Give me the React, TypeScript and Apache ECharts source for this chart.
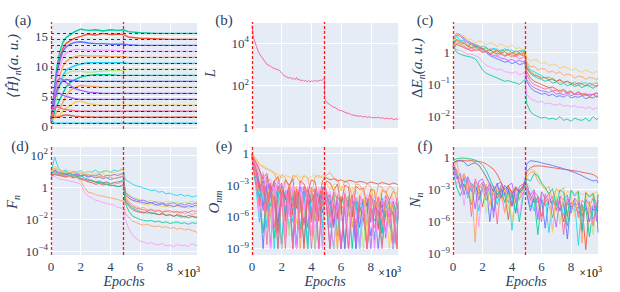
import React, { useEffect, useRef } from 'react';
import * as echarts from 'echarts';

const FONT = "'Liberation Serif', 'DejaVu Serif', serif";
const INK = '#2a3f5f';
const BG = '#E5ECF6';
const COL = {
  blue: '#636EFA', red: '#EF553B', green: '#00CC96', purple: '#AB63FA', orange: '#FFA15A',
  cyan: '#19D3F3', pink: '#FF6692', lgreen: '#B6E880', lpink: '#FF97FF', yellow: '#FECB52',
};

// ---------- shared epoch grids ----------
const epochsA = [0, 100, 200, 300, 400, 600, 800, 1000, 1300, 1600, 2000, 2500, 3000, 3500, 4000, 4500, 4880, 5200, 6000, 7000, 8000, 9000, 9830];
const epochsN = [0, 250, 500, 750, 1000, 1250, 1500, 1750, 2000, 2250, 2500, 2750, 3000, 3250, 3500, 3750, 4000, 4250, 4500, 4750, 4880,
  5000, 5250, 5500, 5750, 6000, 6250, 6500, 6750, 7000, 7250, 7500, 7750, 8000, 8250, 8500, 8750, 9000, 9250, 9500, 9750, 9830];
const switchEpochs = [0, 4880];
const xTicks = [0, 2000, 4000, 6000, 8000];

// ---------- (a) <H>_n ----------
const levels = [0.5, 1.5, 2.5, 3.5, 4.5, 5.5, 6.5, 7.5, 8.5, 9.5, 10.5, 11.5, 12.5, 13.5, 14.5, 15.5];
const h15 = [1.5, 3, 5.5, 8, 10, 12.5, 14, 14.8, 15.3, 15.8, 16.2, 16.0, 16.1, 15.9, 16.1, 16.0, 16.1, 15.8, 15.6, 15.5, 15.5, 15.5, 15.5];
const h14 = [1.2, 2.5, 4.5, 7, 9, 11.5, 13, 13.8, 14.3, 14.7, 15.0, 15.4, 15.2, 15.5, 15.3, 15.4, 15.3, 14.9, 14.7, 14.6, 14.5, 14.5, 14.5];
const h13 = [1, 3, 5, 7.5, 9, 11, 12.5, 13.2, 13.7, 14.0, 14.1, 13.9, 13.8, 13.8, 13.7, 13.7, 13.7, 13.6, 13.5, 13.5, 13.5, 13.5, 13.5];
const h12 = [1, 2.5, 4, 6, 8, 10, 11.5, 12.2, 12.6, 12.8, 12.8, 12.7, 12.7, 12.7, 12.7, 12.6, 12.6, 12.5, 12.5, 12.5, 12.5, 12.5, 12.5];
const h11 = [0.8, 2, 3.5, 5, 6.5, 8.5, 10, 10.8, 11.3, 11.6, 11.8, 11.7, 11.7, 11.7, 11.6, 11.6, 11.6, 11.5, 11.5, 11.5, 11.5, 11.5, 11.5];
const h10 = [0.8, 2, 3, 4, 5, 7, 8.5, 9.3, 9.8, 10.1, 10.4, 10.6, 10.6, 10.6, 10.6, 10.6, 10.6, 10.5, 10.5, 10.5, 10.5, 10.5, 10.5];
const h9 = [1, 2, 3, 4, 5, 6.5, 8, 8.8, 9.1, 9.2, 9.2, 9.0, 9.1, 9.2, 9.3, 9.3, 9.4, 9.5, 9.5, 9.5, 9.5, 9.5, 9.5];
const h8 = [0.5, 1, 2, 3, 3.5, 4.5, 5.5, 6.5, 7.3, 7.8, 8.2, 8.5, 8.6, 8.6, 8.6, 8.5, 8.5, 8.5, 8.5, 8.5, 8.5, 8.5, 8.5];
const h7 = [0.8, 2, 3.5, 5, 6, 7, 7.6, 7.8, 7.7, 7.6, 7.5, 7.5, 7.5, 7.5, 7.5, 7.5, 7.5, 7.5, 7.5, 7.5, 7.5, 7.5, 7.5];
const h6 = [0.5, 1, 1.5, 2, 2.5, 3, 4, 5, 6, 6.5, 6.8, 6.7, 6.6, 6.5, 6.5, 6.5, 6.5, 6.5, 6.5, 6.5, 6.5, 6.5, 6.5];
const h5 = [1, 3, 5, 6.5, 7.5, 8, 7.8, 7.3, 6.8, 6.3, 6.0, 5.7, 5.6, 5.5, 5.5, 5.5, 5.5, 5.5, 5.5, 5.5, 5.5, 5.5, 5.5];
const h4 = [1, 2.5, 4, 5, 5.5, 5.5, 5.2, 5.0, 4.8, 4.6, 4.5, 4.5, 4.5, 4.5, 4.5, 4.5, 4.5, 4.5, 4.5, 4.5, 4.5, 4.5, 4.5];
const h3 = [0.5, 1, 1.3, 1.5, 1.7, 2, 2.5, 3, 3.5, 4, 4.2, 3.8, 3.6, 3.5, 3.5, 3.5, 3.5, 3.5, 3.5, 3.5, 3.5, 3.5, 3.5];
const h2 = [1, 2, 3, 3.2, 3.3, 3.1, 2.9, 2.8, 2.7, 2.6, 2.5, 2.5, 2.5, 2.5, 2.5, 2.5, 2.5, 2.5, 2.5, 2.5, 2.5, 2.5, 2.5];
const h1 = [1.5, 1.5, 1.5, 1.5, 1.5, 1.6, 1.8, 1.9, 1.8, 1.7, 1.6, 1.55, 1.5, 1.5, 1.5, 1.5, 1.5, 1.5, 1.5, 1.5, 1.5, 1.5, 1.5];
const h0 = [1.5, 0.8, 0.6, 0.5, 0.5, 0.5, 0.5, 0.5, 0.5, 0.5, 0.5, 0.5, 0.5, 0.5, 0.5, 0.5, 0.5, 0.5, 0.5, 0.5, 0.5, 0.5, 0.5];

// ---------- (b) loss, [epoch, log10 L] ----------
const lossLog10 = [
  [0, 4.85], [50, 4.5], [100, 4.25], [200, 4.05], [300, 3.85], [400, 3.65], [550, 3.45], [700, 3.3], [850, 3.15], [1000, 3.0],
  [1150, 2.95], [1300, 2.88], [1450, 2.82], [1600, 2.78], [1750, 2.75], [1850, 2.72], [2000, 2.58], [2150, 2.48], [2300, 2.42],
  [2450, 2.36], [2600, 2.38], [2700, 2.3], [2800, 2.34], [2900, 2.28], [3000, 2.38], [3100, 2.26], [3200, 2.3], [3300, 2.22],
  [3400, 2.27], [3500, 2.2], [3600, 2.24], [3700, 2.18], [3800, 2.23], [3900, 2.17], [4000, 2.22], [4100, 2.19], [4200, 2.25],
  [4300, 2.2], [4400, 2.23], [4500, 2.21], [4600, 2.26], [4700, 2.24], [4800, 2.3], [4870, 2.33], [4890, 1.4], [4950, 1.3],
  [5050, 1.2], [5200, 1.12], [5350, 1.05], [5500, 0.98], [5650, 0.94], [5800, 0.86], [5950, 0.82], [6100, 0.8], [6250, 0.74],
  [6400, 0.7], [6550, 0.68], [6700, 0.62], [6850, 0.6], [7000, 0.58], [7150, 0.55], [7300, 0.57], [7450, 0.52], [7600, 0.54],
  [7750, 0.5], [7900, 0.53], [8050, 0.48], [8200, 0.5], [8350, 0.47], [8500, 0.51], [8650, 0.45], [8800, 0.48], [8950, 0.43],
  [9100, 0.47], [9250, 0.42], [9400, 0.46], [9550, 0.38], [9700, 0.44], [9830, 0.4],
];

// ---------- (c) log10 dE_n ----------
const cYellow = [0.35, 0.6, 0.5, 0.52, 0.38, 0.42, 0.3, 0.36, 0.32, 0.22, 0.3, 0.26, 0.18, 0.27, 0.2, 0.16, 0.24, 0.12, 0.15, 0.08, 0.12, -0.15, -0.28, -0.22, -0.26, -0.35, -0.3, -0.42, -0.36, -0.4, -0.5, -0.44, -0.47, -0.56, -0.5, -0.58, -0.62, -0.55, -0.6, -0.66, -0.58, -0.62];
const cOrange = [0.2, 0.4, 0.34, 0.3, 0.22, 0.26, 0.12, 0.2, 0.16, 0.04, 0.12, 0.08, 0.1, 0.0, 0.06, 0.1, -0.04, 0.02, 0.05, -0.02, 0.05, -0.3, -0.45, -0.42, -0.55, -0.5, -0.52, -0.62, -0.58, -0.66, -0.6, -0.72, -0.68, -0.7, -0.8, -0.74, -0.76, -0.84, -0.78, -0.8, -0.86, -0.78];
const cRed = [0.1, 0.25, 0.2, 0.15, 0.1, 0.05, 0.1, 0.08, 0.0, 0.05, -0.05, 0.02, -0.05, 0.0, -0.1, -0.05, -0.08, -0.12, -0.05, -0.1, -0.05, -0.6, -0.8, -0.9, -0.95, -1.0, -1.05, -1.1, -1.08, -1.15, -1.2, -1.15, -1.25, -1.2, -1.3, -1.25, -1.35, -1.3, -1.38, -1.3, -1.4, -1.35];
const cCyan = [0.3, 0.5, 0.38, 0.36, 0.2, 0.28, 0.22, 0.14, 0.2, 0.16, 0.06, 0.12, 0.1, 0.02, 0.12, 0.05, 0.08, -0.04, 0.06, 0.02, 0.05, -0.35, -0.55, -0.6, -0.66, -0.72, -0.8, -0.76, -0.85, -0.9, -0.84, -0.94, -0.9, -0.98, -0.92, -1.02, -0.96, -0.94, -1.04, -0.98, -0.95, -1.0];
const cLgreen = [0.2, 0.35, 0.26, 0.22, 0.14, 0.2, 0.08, 0.12, 0.04, 0.1, 0.02, -0.04, 0.06, -0.02, -0.08, 0.02, -0.1, -0.04, -0.12, -0.02, 0.0, -0.4, -0.58, -0.64, -0.7, -0.76, -0.8, -0.84, -0.8, -0.88, -0.94, -0.9, -0.98, -0.92, -1.0, -0.96, -0.9, -1.02, -0.96, -0.98, -0.92, -0.95];
const cGreenLow = [0.25, 0.0, -0.05, -0.1, -0.12, -0.15, -0.2, -0.35, -0.55, -0.65, -0.7, -0.75, -0.8, -0.85, -0.9, -0.88, -0.92, -0.95, -1.0, -0.9, -0.85, -1.6, -1.85, -1.95, -2.0, -2.05, -2.02, -2.08, -2.05, -2.1, -2.0, -2.12, -2.08, -2.15, -2.05, -2.1, -2.12, -2.05, -2.15, -2.0, -2.1, -2.05];
const cPink = [0.15, 0.3, 0.25, 0.2, 0.1, 0.15, 0.05, 0.1, 0.0, 0.05, -0.05, 0.0, -0.1, -0.05, -0.12, -0.08, -0.15, -0.1, -0.2, -0.15, -0.1, -0.7, -0.9, -1.0, -1.05, -1.1, -1.15, -1.1, -1.2, -1.18, -1.25, -1.2, -1.28, -1.25, -1.3, -1.22, -1.3, -1.28, -1.35, -1.3, -1.25, -1.3];
const cLpink = [0.0, 0.1, 0.05, 0.0, -0.05, -0.05, -0.1, -0.15, -0.3, -0.4, -0.45, -0.5, -0.55, -0.52, -0.6, -0.62, -0.65, -0.6, -0.7, -0.65, -0.6, -1.3, -1.45, -1.5, -1.55, -1.52, -1.6, -1.58, -1.62, -1.65, -1.6, -1.68, -1.65, -1.7, -1.66, -1.72, -1.7, -1.75, -1.7, -1.78, -1.72, -1.75];
const cBlue = [0.4, 0.55, 0.5, 0.4, 0.3, 0.25, 0.2, 0.15, 0.05, 0.0, -0.1, -0.15, -0.2, -0.25, -0.3, -0.28, -0.35, -0.3, -0.38, -0.35, -0.3, -0.9, -1.1, -1.2, -1.25, -1.3, -1.28, -1.35, -1.3, -1.38, -1.35, -1.4, -1.32, -1.42, -1.38, -1.4, -1.35, -1.45, -1.4, -1.42, -1.35, -1.4];
const cPurple = [0.45, 0.6, 0.55, 0.45, 0.35, 0.3, 0.25, 0.2, 0.1, 0.05, -0.05, -0.1, -0.12, -0.18, -0.2, -0.25, -0.22, -0.28, -0.25, -0.3, -0.25, -0.85, -1.0, -1.1, -1.15, -1.2, -1.22, -1.25, -1.2, -1.3, -1.28, -1.32, -1.25, -1.35, -1.3, -1.32, -1.28, -1.35, -1.3, -1.32, -1.28, -1.3];
const cGreen = [0.3, 0.4, 0.35, 0.3, 0.2, 0.25, 0.15, 0.2, 0.1, 0.15, 0.05, 0.12, 0.0, 0.08, 0.05, 0.1, -0.02, 0.05, 0.0, 0.08, 0.05, -0.5, -0.66, -0.74, -0.8, -0.84, -0.9, -0.86, -0.96, -0.92, -1.0, -0.97, -1.04, -0.99, -1.06, -1.02, -1.1, -1.02, -1.06, -1.12, -1.04, -1.05];
const cRed2 = [0.2, 0.4, 0.3, 0.28, 0.2, 0.14, 0.2, 0.1, 0.12, 0.04, 0.1, 0.0, 0.06, -0.04, 0.02, -0.06, 0.0, -0.08, -0.02, -0.06, 0.0, -0.45, -0.62, -0.7, -0.74, -0.8, -0.78, -0.86, -0.82, -0.9, -0.86, -0.94, -0.9, -0.96, -1.0, -0.95, -0.99, -1.05, -0.96, -1.02, -1.06, -1.0];

// ---------- (d) log10 F_n ----------
const dCyan = [0.9, 1.9, 1.2, 1.0, 1.1, 0.9, 1.0, 0.95, 1.05, 0.9, 1.0, 0.95, 1.1, 0.9, 1.0, 1.05, 0.95, 1.1, 1.0, 1.15, 1.1, 0.5, 0.35, 0.2, 0.1, 0.05, -0.05, -0.1, -0.2, -0.15, -0.3, -0.25, -0.4, -0.35, -0.45, -0.5, -0.42, -0.55, -0.48, -0.6, -0.52, -0.55];
const dOrangeLow = [0.8, 0.9, 0.85, 0.8, 0.75, 0.7, 0.75, 0.6, 0.4, 0.0, -0.3, -0.35, -0.45, -0.5, -0.55, -0.6, -0.65, -0.7, -0.75, -0.85, -0.8, -1.6, -1.9, -2.1, -2.2, -2.3, -2.35, -2.3, -2.4, -2.45, -2.4, -2.5, -2.45, -2.55, -2.5, -2.6, -2.55, -2.65, -2.6, -2.7, -2.75, -2.85];
const dLpink = [0.6, 0.7, 0.55, 0.5, 0.45, 0.4, 0.35, 0.3, 0.2, -0.3, -0.55, -0.65, -0.8, -0.85, -0.95, -1.0, -1.05, -1.1, -1.25, -1.3, -1.15, -2.0, -2.6, -3.0, -3.2, -3.35, -3.4, -3.5, -3.45, -3.55, -3.6, -3.5, -3.65, -3.6, -3.7, -3.55, -3.65, -3.6, -3.7, -3.5, -3.65, -3.55];
const dGreen = [0.9, 1.0, 0.85, 0.8, 0.9, 0.75, 0.8, 0.7, 0.75, 0.6, 0.5, 0.45, 0.35, 0.3, 0.25, 0.2, 0.15, 0.1, 0.05, 0.1, 0.15, -1.0, -1.5, -1.8, -1.9, -2.0, -2.05, -2.1, -2.05, -2.15, -2.1, -2.2, -2.15, -2.25, -2.2, -2.15, -2.25, -2.2, -2.3, -2.2, -2.25, -2.2];
const dOrange = [1.0, 1.2, 1.1, 0.95, 1.0, 0.9, 0.95, 0.85, 0.9, 0.8, 0.85, 0.7, 0.75, 0.65, 0.7, 0.6, 0.65, 0.55, 0.6, 0.7, 0.75, -0.6, -0.9, -1.1, -1.2, -1.3, -1.25, -1.4, -1.35, -1.45, -1.4, -1.5, -1.45, -1.55, -1.5, -1.6, -1.5, -1.65, -1.55, -1.7, -1.6, -1.65];
const dRed = [0.7, 0.8, 0.75, 0.7, 0.65, 0.7, 0.6, 0.65, 0.5, 0.45, 0.35, 0.3, 0.2, 0.25, 0.15, 0.2, 0.1, 0.15, 0.05, 0.1, 0.2, -0.9, -1.2, -1.4, -1.5, -1.55, -1.6, -1.5, -1.65, -1.6, -1.7, -1.65, -1.75, -1.7, -1.8, -1.7, -1.75, -1.85, -1.75, -1.8, -1.9, -1.8];
const dBlue = [0.8, 1.1, 0.92, 0.86, 0.8, 0.86, 0.74, 0.8, 0.7, 0.76, 0.64, 0.7, 0.6, 0.66, 0.56, 0.62, 0.5, 0.56, 0.6, 0.66, 0.7, -0.4, -0.66, -0.8, -0.86, -0.9, -0.96, -1.0, -0.94, -1.06, -1.1, -1.02, -1.16, -1.1, -1.2, -1.12, -1.16, -1.24, -1.14, -1.2, -1.1, -1.15];
const dPurple = [0.85, 1.05, 0.92, 0.9, 0.82, 0.9, 0.78, 0.86, 0.74, 0.82, 0.7, 0.78, 0.72, 0.84, 0.66, 0.76, 0.72, 0.82, 0.74, 0.86, 0.9, -0.3, -0.52, -0.68, -0.76, -0.84, -0.8, -0.92, -0.96, -0.9, -1.0, -0.96, -1.06, -1.0, -0.96, -1.06, -1.02, -1.1, -1.0, -1.05, -0.97, -1.0];
const dPink = [0.75, 0.9, 0.8, 0.85, 0.7, 0.75, 0.7, 0.8, 0.6, 0.5, 0.4, 0.45, 0.3, 0.35, 0.25, 0.3, 0.2, 0.3, 0.25, 0.35, 0.4, -0.7, -1.0, -1.2, -1.3, -1.35, -1.4, -1.45, -1.4, -1.5, -1.45, -1.55, -1.5, -1.45, -1.55, -1.5, -1.6, -1.5, -1.55, -1.45, -1.5, -1.45];
const dLgreen = [0.95, 1.15, 1.0, 0.92, 0.96, 0.86, 0.92, 0.82, 0.86, 0.76, 0.82, 0.72, 0.8, 0.76, 0.86, 0.72, 0.8, 0.76, 0.86, 0.82, 0.9, -0.2, -0.46, -0.6, -0.7, -0.74, -0.8, -0.86, -0.8, -0.9, -0.86, -0.95, -0.9, -0.86, -0.96, -0.9, -1.0, -0.92, -0.96, -0.86, -0.92, -0.95];
const dYellow = [1.05, 1.35, 1.1, 1.05, 0.95, 1.08, 0.92, 1.0, 0.98, 0.9, 1.02, 0.95, 0.86, 0.98, 0.92, 1.04, 0.9, 0.95, 1.0, 1.08, 1.0, -0.5, -0.72, -0.84, -0.92, -1.0, -1.04, -1.1, -1.02, -1.14, -1.1, -1.2, -1.16, -1.24, -1.18, -1.15, -1.26, -1.2, -1.3, -1.22, -1.25, -1.2];
const dGreen2 = [0.7, 0.85, 0.8, 0.75, 0.7, 0.75, 0.65, 0.7, 0.55, 0.5, 0.45, 0.4, 0.35, 0.4, 0.3, 0.35, 0.25, 0.3, 0.35, 0.4, 0.45, -0.8, -1.1, -1.3, -1.4, -1.5, -1.55, -1.6, -1.55, -1.65, -1.7, -1.6, -1.75, -1.7, -1.8, -1.75, -1.85, -1.8, -1.9, -1.8, -1.85, -1.9];

// ---------- (e) log10 O_nm ----------
const e1 = [-0.2, -0.8, -1.6, -2.4, -1.9, -3.5, -2.6, -2.2, -4.1, -2.5, -3.0, -2.4, -5.2, -2.6, -2.9, -3.8, -2.5, -2.7, -4.5, -2.6, -2.4, -2.3, -2.5, -2.4, -2.6, -2.5, -2.7, -2.55, -2.6, -2.75, -2.65, -2.7, -2.85, -2.7, -2.8, -2.9, -2.75, -2.85, -2.95, -2.8, -2.9, -3.0];
const e2 = [0.0, -0.5, -1.0, -1.3, -1.5, -1.6, -1.8, -2.9, -2.0, -2.3, -3.4, -2.1, -2.2, -2.8, -2.1, -2.3, -4.0, -2.2, -2.1, -2.3, -2.2, -2.1, -1.8, -2.3, -2.5, -3.5, -2.6, -2.8, -4.2, -2.9, -3.0, -3.6, -2.9, -3.1, -5.0, -3.0, -3.2, -3.8, -3.1, -3.3, -4.4, -3.2];
const e3 = [-0.1, -0.6, -1.2, -1.1, -1.4, -1.7, -1.9, -2.0, -2.3, -2.1, -2.2, -2.5, -2.0, -2.3, -2.1, -2.4, -2.2, -2.0, -2.3, -2.1, -2.0, -2.8, -3.4, -2.9, -4.5, -3.1, -3.3, -6.0, -3.2, -3.5, -4.0, -3.4, -7.2, -3.6, -3.5, -4.8, -3.4, -3.7, -5.5, -3.5, -3.8, -3.6];
const e4 = [0.0, -1.5, -3.5, -2.0, -5.5, -2.8, -7.0, -3.0, -4.5, -9.0, -3.2, -5.0, -3.4, -8.0, -3.1, -4.2, -6.5, -3.3, -9.0, -3.5, -3.0, -3.5, -6.0, -3.6, -4.4, -9.0, -3.8, -5.2, -3.9, -7.5, -4.0, -4.6, -9.0, -3.9, -5.5, -4.1, -6.8, -4.0, -4.8, -8.5, -4.2, -4.5];
const e5 = [-0.3, -1.0, -2.2, -1.8, -3.0, -2.4, -4.0, -2.6, -3.5, -2.8, -6.0, -3.0, -3.8, -2.9, -5.2, -3.1, -4.0, -7.5, -3.2, -3.6, -3.4, -4.0, -3.6, -5.5, -3.8, -4.2, -3.7, -8.0, -3.9, -4.5, -4.0, -5.8, -3.9, -4.4, -9.0, -4.1, -4.6, -4.0, -6.2, -4.2, -4.8, -4.5];
const e6 = [-0.2, -2.0, -4.5, -2.6, -7.0, -3.0, -5.0, -3.2, -8.5, -3.5, -4.0, -6.5, -3.4, -5.0, -3.6, -9.0, -3.5, -4.5, -3.8, -7.0, -3.6, -4.0, -5.5, -3.8, -7.8, -4.1, -4.5, -4.0, -6.0, -4.2, -8.8, -4.3, -5.0, -4.1, -4.6, -7.0, -4.2, -5.2, -4.4, -9.0, -4.5, -4.8];
const e7 = [-0.1, -1.2, -2.8, -5.0, -2.5, -3.8, -2.9, -6.8, -3.0, -4.2, -3.1, -5.5, -9.0, -3.2, -4.0, -3.3, -6.2, -3.4, -4.8, -3.2, -3.3, -4.5, -3.9, -6.5, -4.0, -4.8, -9.0, -4.2, -5.0, -4.4, -7.0, -4.3, -4.9, -4.5, -8.2, -4.4, -5.1, -4.6, -6.0, -4.5, -9.0, -4.7];
const e8 = [-0.3, -1.8, -3.2, -2.6, -4.8, -3.1, -8.0, -3.3, -3.9, -5.8, -3.4, -4.5, -3.6, -7.2, -3.5, -4.2, -3.7, -5.6, -3.6, -9.0, -3.5, -3.8, -4.8, -4.0, -6.2, -4.1, -5.0, -4.3, -9.0, -4.2, -5.5, -4.4, -6.8, -4.3, -4.9, -4.5, -7.5, -4.4, -5.4, -4.6, -6.0, -4.5];
const e9 = [-0.1, -0.9, -1.5, -3.0, -2.2, -4.2, -2.6, -3.4, -2.8, -5.5, -3.0, -3.6, -8.8, -3.1, -3.5, -4.8, -3.2, -3.8, -6.0, -3.3, -3.1, -3.6, -4.2, -7.0, -4.0, -4.5, -4.1, -5.8, -4.2, -9.0, -4.3, -4.8, -4.2, -6.5, -4.4, -5.0, -4.3, -8.0, -4.5, -4.9, -4.6, -5.2];
const e10 = [-0.4, -2.5, -5.5, -3.0, -4.0, -9.0, -3.3, -4.6, -3.5, -6.8, -3.6, -4.4, -3.7, -5.6, -3.6, -8.2, -3.8, -4.5, -3.7, -5.0, -3.6, -4.2, -6.5, -4.3, -5.0, -4.4, -9.0, -4.5, -5.4, -4.6, -6.2, -4.5, -5.0, -4.7, -8.5, -4.6, -5.2, -4.8, -7.0, -4.7, -5.5, -4.8];
const e11 = [-0.2, -1.4, -2.6, -4.0, -3.0, -6.5, -3.2, -4.4, -3.4, -3.9, -7.8, -3.5, -4.6, -3.6, -6.0, -3.7, -4.2, -9.0, -3.8, -4.5, -3.7, -3.9, -5.0, -4.1, -7.5, -4.2, -4.8, -4.3, -6.2, -4.4, -5.0, -9.0, -4.5, -5.2, -4.6, -6.5, -4.5, -5.4, -4.7, -8.0, -4.6, -5.0];
const e12 = [-0.3, -2.2, -3.8, -2.9, -6.0, -3.2, -4.5, -3.4, -9.0, -3.5, -4.3, -3.6, -6.6, -3.7, -4.8, -3.6, -7.5, -3.8, -4.4, -3.9, -3.7, -4.4, -5.2, -4.6, -9.0, -4.7, -5.5, -4.8, -6.8, -4.9, -5.6, -4.8, -8.0, -5.0, -5.8, -4.9, -6.2, -5.1, -9.0, -5.0, -5.6, -5.2];
const e13 = [-0.2, -1.6, -3.4, -2.7, -5.2, -3.0, -3.8, -7.5, -3.2, -4.4, -3.3, -5.8, -3.4, -4.0, -9.0, -3.5, -4.6, -3.6, -6.4, -3.5, -3.4, -2.6, -2.8, -3.5, -2.9, -4.8, -3.0, -3.2, -6.0, -3.1, -3.4, -3.3, -5.0, -3.4, -3.5, -7.2, -3.5, -3.6, -4.4, -3.6, -3.8, -3.7];
const e14 = [-0.5, -3.0, -6.5, -3.5, -4.8, -3.6, -9.0, -3.8, -5.0, -3.9, -7.2, -4.0, -4.6, -4.1, -8.5, -4.2, -5.2, -4.1, -6.0, -4.3, -4.2, -4.6, -7.0, -4.8, -5.4, -4.9, -8.2, -5.0, -5.6, -5.1, -9.0, -5.2, -6.0, -5.1, -5.8, -5.3, -7.6, -5.2, -6.2, -5.4, -9.0, -5.5];
const e15 = [-0.1, -2.4, -5.0, -3.0, -8.6, -3.4, -4.6, -9.0, -3.6, -5.2, -3.7, -9.0, -3.8, -4.9, -6.8, -3.9, -9.0, -4.0, -5.4, -4.1, -3.9, -4.6, -9.0, -4.8, -6.2, -4.9, -5.4, -9.0, -5.0, -6.6, -5.1, -5.6, -9.0, -5.2, -7.0, -5.3, -9.0, -5.4, -6.0, -5.5, -8.8, -5.4];
const e16 = [-0.2, -1.9, -6.0, -2.8, -4.2, -9.0, -3.2, -5.6, -3.4, -8.0, -3.5, -4.8, -9.0, -3.6, -5.4, -3.7, -7.8, -3.8, -5.0, -9.0, -3.8, -4.2, -5.8, -9.0, -4.6, -6.4, -4.7, -8.4, -4.8, -5.5, -9.0, -4.9, -6.0, -5.0, -9.0, -5.1, -5.8, -7.6, -5.2, -9.0, -5.3, -6.0];
const e17 = [-0.4, -2.8, -4.0, -7.5, -3.4, -5.0, -3.6, -9.0, -3.8, -6.0, -3.9, -8.4, -4.0, -5.2, -4.1, -9.0, -4.2, -6.4, -4.3, -5.0, -4.2, -4.8, -6.0, -9.0, -5.0, -5.8, -5.1, -9.0, -5.2, -7.2, -5.3, -6.0, -9.0, -5.4, -6.4, -5.5, -8.6, -5.6, -6.2, -9.0, -5.7, -6.0];
const e18 = [-0.3, -2.2, -3.6, -9.0, -3.2, -6.2, -3.4, -4.8, -9.0, -3.6, -5.8, -3.7, -9.0, -3.8, -6.6, -3.9, -5.2, -9.0, -4.0, -5.6, -4.1, -4.4, -9.0, -4.6, -5.6, -9.0, -4.8, -6.0, -4.9, -9.0, -5.0, -6.4, -5.1, -7.8, -5.2, -9.0, -5.3, -6.0, -5.4, -9.0, -5.5, -6.2];
const e19 = [-0.2, -1.2, -2.0, -3.6, -2.4, -5.8, -2.8, -3.6, -2.9, -7.6, -3.0, -3.8, -3.1, -9.0, -3.2, -4.4, -3.3, -6.2, -3.4, -4.0, -3.2, -3.6, -4.4, -3.8, -9.0, -4.0, -4.6, -4.1, -7.0, -4.2, -4.8, -4.3, -9.0, -4.4, -5.0, -4.5, -6.6, -4.6, -5.2, -4.7, -9.0, -4.8];
const e20 = [-0.1, -1.7, -3.0, -5.4, -2.9, -9.0, -3.1, -4.0, -3.3, -6.4, -3.4, -9.0, -3.5, -4.4, -3.6, -7.0, -3.7, -4.6, -9.0, -3.8, -3.6, -4.0, -4.8, -6.8, -4.2, -9.0, -4.4, -5.0, -4.5, -8.0, -4.6, -5.4, -4.7, -9.0, -4.8, -5.6, -4.9, -7.4, -5.0, -5.8, -9.0, -5.1];

// ---------- (f) log10 N_n ----------
const fBlue = [-0.5, -0.3, -0.3, -0.4, -0.8, -0.6, -0.5, -0.7, -1.2, -1.8, -2.5, -3.2, -2.4, -3.8, -2.6, -3.0, -4.5, -2.8, -3.3, -2.9, -2.2, -0.6, -0.3, -0.35, -0.4, -0.5, -0.6, -0.65, -0.75, -0.85, -0.95, -1.05, -1.15, -1.3, -1.4, -1.55, -1.7, -1.9, -2.05, -2.2, -2.1, -2.4];
const fRed = [-0.5, -0.35, -0.3, -0.3, -0.32, -0.3, -0.35, -0.38, -0.45, -0.6, -0.85, -1.1, -1.6, -2.3, -3.0, -2.6, -3.4, -2.8, -3.1, -2.7, -2.3, -1.3, -0.95, -0.8, -0.78, -0.8, -0.85, -0.9, -0.95, -1.0, -1.05, -1.1, -1.15, -1.2, -1.25, -1.3, -1.38, -1.45, -1.5, -1.6, -1.8, -1.95];
const fGreen = [-0.3, -0.1, -0.05, -0.05, -0.08, -0.15, -0.25, -0.4, -0.7, -1.2, -2.0, -2.8, -3.5, -2.9, -4.2, -3.1, -3.6, -5.0, -3.2, -3.0, -2.6, -2.0, -2.2, -1.5, -1.7, -2.4, -2.8, -3.4, -2.9, -4.5, -3.0, -3.3, -5.5, -3.1, -3.6, -3.2, -6.8, -3.3, -3.7, -3.4, -5.0, -3.5];
const fYellow = [-0.6, -0.3, -0.15, -0.1, -0.15, -0.3, -0.5, -0.8, -1.3, -2.0, -2.6, -3.3, -2.8, -4.0, -3.0, -3.5, -6.0, -3.2, -2.9, -3.1, -2.5, -1.5, -1.1, -1.2, -1.6, -2.3, -2.8, -3.6, -7.0, -3.0, -3.3, -4.2, -3.1, -3.4, -5.5, -3.2, -3.5, -3.3, -4.8, -3.4, -3.2, -3.6];
const fOrange = [-1.0, -0.4, -2.0, -1.5, -3.2, -2.4, -7.9, -2.6, -3.0, -2.5, -4.5, -2.7, -3.2, -2.8, -5.2, -2.9, -3.1, -2.7, -4.0, -2.8, -2.6, -1.8, -1.4, -1.3, -2.2, -2.6, -3.0, -2.7, -4.0, -2.9, -3.2, -2.8, -5.8, -3.0, -3.4, -3.1, -8.0, -3.2, -3.6, -3.3, -4.5, -3.4];
const fPurple = [-0.8, -2.0, -1.5, -3.5, -1.8, -2.6, -4.8, -2.2, -2.0, -3.0, -2.4, -5.6, -2.5, -2.3, -3.4, -2.6, -2.4, -4.2, -2.7, -2.5, -2.2, -2.5, -3.5, -3.0, -5.8, -3.2, -3.8, -3.4, -4.6, -6.5, -3.6, -4.0, -3.5, -5.2, -3.8, -4.2, -7.0, -3.9, -4.5, -3.8, -6.0, -4.0];
const fPink = [-0.5, -1.2, -3.0, -1.6, -2.2, -5.5, -2.0, -2.8, -2.3, -3.6, -2.5, -2.8, -6.2, -2.6, -3.0, -2.7, -4.6, -2.8, -3.2, -2.6, -2.4, -2.8, -4.0, -3.2, -3.6, -6.0, -3.4, -4.2, -3.6, -5.0, -3.7, -7.2, -3.8, -4.4, -3.9, -5.6, -4.0, -4.3, -4.1, -6.4, -4.2, -4.0];
const fLpink = [-1.0, -2.5, -1.8, -4.5, -2.0, -3.0, -2.4, -6.5, -2.6, -3.2, -2.8, -4.0, -2.9, -3.5, -5.0, -3.0, -3.4, -3.1, -5.5, -3.0, -2.8, -3.0, -4.5, -3.4, -5.5, -3.6, -4.0, -3.8, -6.8, -3.9, -4.4, -4.0, -5.2, -4.1, -4.6, -4.2, -6.0, -4.3, -4.8, -4.4, -5.4, -4.5];
const fCyan = [-0.7, -1.8, -2.6, -2.0, -3.8, -2.4, -2.8, -5.0, -2.7, -3.4, -2.9, -3.2, -4.4, -3.0, -3.6, -3.2, -6.8, -3.3, -3.8, -3.4, -3.0, -3.2, -3.8, -5.0, -3.6, -4.2, -3.8, -7.0, -4.0, -4.5, -4.1, -5.4, -4.2, -4.8, -4.3, -8.2, -4.4, -5.0, -4.5, -5.8, -4.6, -4.7];
const fLgreen = [-0.9, -1.5, -2.2, -3.0, -2.3, -4.2, -2.5, -2.9, -2.6, -5.2, -2.8, -3.1, -2.9, -3.6, -3.0, -4.8, -3.1, -3.5, -3.2, -3.6, -3.0, -2.4, -2.9, -3.5, -4.8, -3.4, -3.8, -3.5, -4.4, -3.6, -6.2, -3.8, -4.1, -3.9, -4.6, -4.0, -5.2, -4.1, -4.4, -7.2, -4.2, -4.3];
const fBlue2 = [-0.6, -1.4, -2.8, -1.9, -2.4, -3.2, -2.3, -4.0, -2.5, -2.8, -6.0, -2.7, -3.0, -2.8, -3.5, -2.9, -3.2, -5.2, -3.0, -2.8, -2.5, -3.4, -5.0, -3.6, -4.2, -3.8, -6.6, -3.9, -4.4, -4.0, -5.0, -4.1, -7.6, -4.2, -4.6, -4.3, -5.2, -4.4, -6.0, -4.5, -4.8, -7.0];
const fRed2 = [-0.8, -1.6, -2.0, -2.6, -3.4, -2.4, -3.0, -2.6, -4.6, -2.8, -3.2, -2.9, -3.8, -3.0, -3.3, -5.8, -3.1, -3.6, -3.2, -3.4, -3.0, -2.9, -3.5, -4.2, -3.7, -5.5, -3.9, -4.3, -4.0, -4.8, -4.1, -6.0, -4.2, -4.6, -4.3, -5.2, -4.4, -8.6, -4.5, -4.9, -4.6, -5.0];
const fGreen2 = [-1.2, -2.8, -3.6, -2.5, -3.0, -4.4, -2.8, -3.4, -3.0, -4.0, -3.2, -5.0, -3.3, -3.7, -3.4, -4.2, -3.5, -3.9, -6.0, -3.6, -3.3, -3.4, -4.6, -3.8, -7.2, -4.0, -4.5, -4.2, -5.6, -4.3, -4.8, -4.4, -6.4, -4.5, -5.0, -4.6, -5.5, -4.7, -7.4, -4.8, -5.2, -4.9];

// ---------- panel content ----------
const panelA = [
  [h15, COL.green], [h14, COL.red], [h13, COL.blue], [h12, COL.lpink], [h11, COL.orange], [h10, COL.cyan],
  [h9, COL.lgreen], [h8, COL.green], [h7, COL.blue], [h6, COL.orange], [h5, COL.purple], [h4, COL.purple],
  [h3, COL.yellow], [h2, COL.pink], [h1, COL.red], [h0, COL.cyan],
];
const panelC = [
  [cGreenLow, COL.green], [cLpink, COL.lpink], [cBlue, COL.blue], [cPurple, COL.purple], [cRed, COL.red], [cPink, COL.pink],
  [cCyan, COL.cyan], [cLgreen, COL.lgreen], [cGreen, COL.green], [cRed2, COL.red], [cOrange, COL.orange], [cYellow, COL.yellow],
];
const panelD = [
  [dCyan, COL.cyan], [dYellow, COL.yellow], [dLgreen, COL.lgreen], [dPurple, COL.purple], [dBlue, COL.blue], [dOrange, COL.orange],
  [dGreen2, COL.green], [dRed, COL.red], [dPink, COL.pink], [dGreen, COL.green], [dOrangeLow, COL.orange], [dLpink, COL.lpink],
];
const panelE = [
  [e14, COL.cyan], [e18, COL.blue], [e17, COL.green], [e12, COL.yellow], [e10, COL.orange], [e11, COL.lgreen], [e8, COL.green],
  [e7, COL.blue], [e20, COL.purple], [e9, COL.purple], [e6, COL.cyan], [e19, COL.orange], [e13, COL.red], [e2, COL.orange],
  [e3, COL.yellow], [e1, COL.red], [e16, COL.lpink], [e5, COL.lpink], [e15, COL.pink], [e4, COL.pink],
];
const panelF = [
  [fGreen2, COL.green], [fRed2, COL.red], [fBlue2, COL.blue], [fLgreen, COL.lgreen], [fCyan, COL.cyan], [fLpink, COL.lpink],
  [fPink, COL.pink], [fPurple, COL.purple], [fOrange, COL.orange], [fYellow, COL.yellow], [fGreen, COL.green], [fRed, COL.red], [fBlue, COL.blue],
];

const GRIDS = [
  { left: 51, top: 22, width: 146, height: 107 },
  { left: 252, top: 22, width: 146, height: 107 },
  { left: 453, top: 22, width: 145, height: 107 },
  { left: 51, top: 146, width: 146, height: 109 },
  { left: 252, top: 146, width: 146, height: 109 },
  { left: 453, top: 146, width: 145, height: 109 },
];

// y extents (panel b..f in log10 units)
const Y_AXES = [
  { min: -0.45, max: 17.4, step: 5, ticks: [0, 5, 10, 15], log: false },
  { min: -0.05, max: 5.0, step: 2, ticks: [0, 2, 4], log: true },
  { min: -2.39, max: 0.95, step: 1, ticks: [-2, -1, 0], log: true },
  { min: -4.22, max: 2.59, step: 2, ticks: [-4, -2, 0, 2], log: true },
  { min: -9.59, max: 0.69, step: 3, ticks: [-9, -6, -3, 0], log: true },
  { min: -9.1, max: 1.07, step: 3, ticks: [-9, -6, -3, 0], log: true },
];

function pairs(xs: number[], ys: number[]) {
  const n = Math.min(xs.length, ys.length);
  const out: number[][] = [];
  for (let i = 0; i < n; i++) out.push([xs[i], ys[i]]);
  return out;
}

const tickRich = {
  m: { fontFamily: FONT, fontSize: 13, color: INK, lineHeight: 17 },
  s: { fontFamily: FONT, fontSize: 9, color: INK, lineHeight: 9, verticalAlign: 'top' },
};

function yLabel(cfg: any) {
  return (v: number) => {
    const r = Math.round(v);
    if (Math.abs(v - r) > 1e-6 || cfg.ticks.indexOf(r) < 0) return '';
    if (!cfg.log) return '{m|' + r + '}';
    if (r === 0) return '{m|1}';
    return '{m|10}{s|' + (r < 0 ? '\u2212' + (-r) : String(r)) + '}';
  };
}

function buildOption() {
  const series: any[] = [];
  const line = (p: number, data: number[][], color: string, width: number, opacity: number) => ({
    type: 'line', xAxisIndex: p, yAxisIndex: p, data, showSymbol: false, symbol: 'none', silent: true,
    lineStyle: { color, width, opacity }, itemStyle: { color }, z: 2,
  });
  panelA.forEach(([ys, c]: any) => series.push(line(0, pairs(epochsA, ys), c, 1.4, 1)));
  series.push(line(1, lossLog10, COL.pink, 1, 1));
  panelC.forEach(([ys, c]: any) => series.push(line(2, pairs(epochsN, ys), c, 1, 0.85)));
  panelD.forEach(([ys, c]: any) => series.push(line(3, pairs(epochsN, ys), c, 1, 0.85)));
  panelE.forEach(([ys, c]: any) => series.push(line(4, pairs(epochsN, ys), c, 1, 0.85)));
  panelF.forEach(([ys, c]: any) => series.push(line(5, pairs(epochsN, ys), c, 1, 0.85)));

  // dashed eigenvalue levels in (a)
  series.push({
    type: 'line', xAxisIndex: 0, yAxisIndex: 0, data: [], z: 3, silent: true,
    markLine: {
      silent: true, symbol: ['none', 'none'], label: { show: false }, animation: false,
      lineStyle: { color: '#262626', type: [3, 3], width: 1.2, opacity: 0.9 },
      data: levels.map((v) => ({ yAxis: v })),
    },
  });
  // red dashed switch lines in every panel
  for (let p = 0; p < 6; p++) {
    series.push({
      type: 'line', xAxisIndex: p, yAxisIndex: p, data: [], z: 4, silent: true,
      markLine: {
        silent: true, symbol: ['none', 'none'], label: { show: false }, animation: false,
        lineStyle: { color: '#ff1a1a', type: [3, 2], width: 1.3, opacity: 1 },
        data: switchEpochs.map((x) => ({ xAxis: x })),
      },
    });
  }

  const xAxis = GRIDS.map((_, p) => ({
    type: 'value', gridIndex: p, min: 0, max: 9830, minInterval: 2000, maxInterval: 2000,
    axisLine: { show: false }, axisTick: { show: false },
    splitLine: { show: true, lineStyle: { color: '#ffffff', width: 1 } },
    axisLabel: {
      show: p >= 3, margin: 5, color: INK, fontFamily: FONT, fontSize: 13,
      formatter: (v: number) => (xTicks.indexOf(Math.round(v)) >= 0 && Math.abs(v - Math.round(v)) < 1e-6 ? String(v / 1000) : ''),
    },
  }));
  const yAxis = Y_AXES.map((cfg, p) => ({
    type: 'value', gridIndex: p, min: cfg.min, max: cfg.max, minInterval: cfg.step, maxInterval: cfg.step,
    axisLine: { show: false }, axisTick: { show: false },
    splitLine: { show: true, lineStyle: { color: '#ffffff', width: 1 } },
    axisLabel: { margin: 3, formatter: yLabel(cfg), rich: tickRich },
  }));

  const italic = { fontFamily: FONT, fontStyle: 'italic', fontSize: 15, color: INK, lineHeight: 18 };
  const sub = { fontFamily: FONT, fontStyle: 'italic', fontSize: 10, color: INK, lineHeight: 10, verticalAlign: 'bottom' };
  const upright = { fontFamily: FONT, fontSize: 15, color: INK, lineHeight: 18 };
  const titleRich = { i: italic, s: sub, u: upright };

  const yTitle = (x: number, y: number, text: string) => ({
    type: 'text', x, y, rotation: Math.PI / 2, silent: true,
    style: { text, align: 'center', verticalAlign: 'middle', rich: titleRich, fill: INK },
  });
  const plain = (x: number, y: number, text: string, extra: any = {}) => ({
    type: 'text', x, y, silent: true,
    style: { text, align: 'center', verticalAlign: 'middle', fontFamily: FONT, fontSize: 15, fill: INK, ...extra },
  });
  const times = (x: number, y: number) => ({
    type: 'text', x, y, silent: true,
    style: {
      text: '{m|\u00d710}{s|3}', align: 'right', verticalAlign: 'middle',
      rich: {
        m: { fontFamily: FONT, fontSize: 12, color: INK, lineHeight: 16 },
        s: { fontFamily: FONT, fontSize: 8, color: INK, lineHeight: 8, verticalAlign: 'top' },
      },
    },
  });

  const graphic = [
    plain(23, 20, '(a)'), plain(224, 20, '(b)'), plain(425, 20, '(c)'),
    plain(20, 146, '(d)'), plain(224, 146, '(e)'), plain(425, 146, '(f)'),
    yTitle(13, 66, '{i|\u27e8\u0124\u27e9}{s|n}{i|(a. u.)}'),
    yTitle(210, 73, '{i|L}'),
    yTitle(417, 68, '{u|\u0394}{i|E}{s|n}{i|(a. u.)}'),
    yTitle(12, 202, '{i|F}{s|n}'),
    yTitle(214, 202, '{i|O}{s|nm}'),
    yTitle(415, 200, '{i|N}{s|n}'),
    plain(124, 281, 'Epochs', { fontStyle: 'italic', fontSize: 14 }),
    plain(325, 281, 'Epochs', { fontStyle: 'italic', fontSize: 14 }),
    plain(526, 281, 'Epochs', { fontStyle: 'italic', fontSize: 14 }),
    times(200, 273), times(401, 273), times(602, 273),
  ];

  return {
    animation: false,
    backgroundColor: '#ffffff',
    textStyle: { fontFamily: FONT },
    grid: GRIDS.map((g) => ({ ...g, show: true, backgroundColor: BG, borderWidth: 0, containLabel: false })),
    xAxis, yAxis, series, graphic,
  };
}

export default function App() {
  const ref = useRef<HTMLDivElement>(null);
  useEffect(() => {
    if (!ref.current) return;
    const chart = echarts.init(ref.current, null, { renderer: 'svg' });
    chart.setOption(buildOption() as any);
    return () => chart.dispose();
  }, []);
  return <div ref={ref} style={{ position: 'absolute', left: 0, top: 0, width: 620, height: 292 }} />;
}
